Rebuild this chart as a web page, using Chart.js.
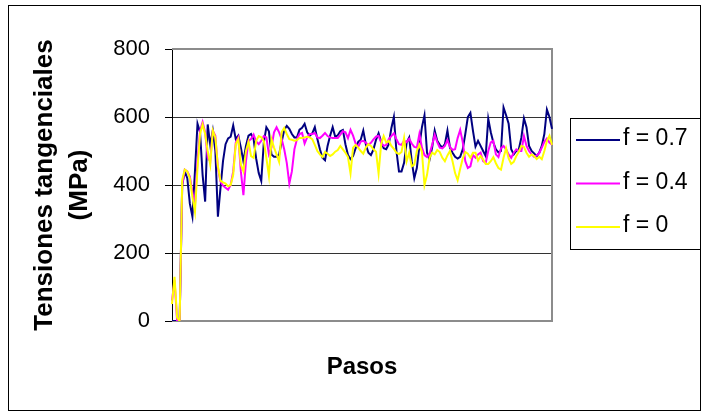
<!DOCTYPE html>
<html>
<head>
<meta charset="utf-8">
<script src="https://cdn.jsdelivr.net/npm/chart.js@4.4.1/dist/chart.umd.min.js"></script>
<style>
  html, body { margin: 0; padding: 0; background: #fff; }
</style>
</head>
<body>
<canvas id="chart" width="702" height="416"></canvas>
<script>
// pasos (categorias del eje x, sin etiquetas visibles)
const pasos = Array.from({length: 150}, (_, i) => String(i + 1));

// tensiones tangenciales (MPa)
const f07 = [
    0, 0, 0, 0, 400, 440, 420, 345, 307, 440,
    580, 555, 430, 351, 578, 518, 560, 500, 307, 390,
    470, 520, 537, 542, 575, 535, 545, 510, 470, 515,
    545, 550, 535, 478, 435, 412, 525, 570, 558, 490,
    483, 483, 490, 527, 562, 574, 565, 550, 540, 540,
    563, 568, 580, 555, 545, 552, 570, 535, 505, 480,
    473, 515, 545, 570, 542, 546, 558, 562, 520, 488,
    476, 485, 508, 527, 533, 560, 520, 495, 488, 505,
    533, 552, 528, 508, 505, 520, 567, 600, 500, 440,
    440, 465, 525, 540, 470, 420, 450, 515, 570, 605,
    495, 475, 510, 560, 530, 518, 510, 520, 560, 510,
    495, 483, 478, 483, 505, 550, 600, 612, 560, 513,
    530, 515, 500, 485, 595, 555, 525, 505, 496, 500,
    628, 605, 580, 505, 490, 500, 505, 540, 596, 570,
    515, 500, 493, 485, 495, 515, 550, 622, 600, 565
];
const f04 = [
    60, 120, 0, 0, 400, 445, 440, 425, 380, 340,
    470, 560, 585, 555, 480, 470, 560, 545, 450, 410,
    398, 392, 386, 400, 440, 525, 540, 440, 370, 470,
    530, 535, 548, 528, 520, 530, 544, 540, 490, 510,
    555, 570, 555, 535, 505, 465, 404, 440, 505, 535,
    550, 553, 522, 540, 550, 550, 553, 540, 538, 545,
    553, 544, 540, 538, 538, 538, 548, 558, 555, 538,
    562, 545, 522, 512, 528, 530, 524, 518, 524, 534,
    542, 545, 525, 515, 518, 535, 544, 552, 535, 520,
    518, 530, 526, 536, 522, 512, 510, 550, 510, 488,
    482, 492, 518, 548, 526, 510, 508, 515, 532, 512,
    503, 505, 538, 562, 526, 470, 450, 455, 488, 480,
    490, 495, 470, 465, 500, 525, 530, 490, 482, 508,
    515, 505, 490, 480, 495, 505, 500, 500, 544, 515,
    500, 490, 483, 487, 494, 510, 527, 537, 525, 518
];
const f0 = [
    50, 130, 10, 0, 415, 445, 440, 420, 365, 321,
    450, 550, 578, 550, 500, 460, 560, 540, 455, 413,
    408, 404, 396, 400, 430, 520, 535, 460, 440, 500,
    527, 485, 480, 530, 544, 540, 530, 480, 427, 535,
    510, 490, 468, 556, 568, 550, 535, 533, 530, 532,
    538, 538, 540, 542, 540, 535, 518, 500, 490, 482,
    497, 492, 485, 490, 498, 503, 515, 505, 495, 482,
    434, 510, 518, 510, 500, 492, 510, 520, 515, 505,
    498, 434, 520, 544, 525, 530, 515, 506, 495, 491,
    497, 538, 470, 495, 455, 460, 500, 518, 497, 400,
    430, 480, 495, 490, 503, 497, 480, 470, 487, 500,
    470, 435, 414, 448, 478, 497, 492, 480, 495, 495,
    472, 485, 475, 462, 462, 470, 482, 464, 450, 445,
    480, 508, 478, 462, 468, 485, 498, 515, 512, 495,
    483, 490, 485, 476, 483, 476, 500, 530, 545, 518
];

const nombres = ['f = 0.7', 'f = 0.4', 'f = 0'];
const colores = ['#000080', '#FF00FF', '#FFFF00'];
const yTicks = [0, 200, 400, 600, 800];

const fuente = '"Liberation Sans", Arial, sans-serif';

// marco del grafico, borde del area de trazado y leyenda con recuadro
const marco = {
    id: 'marco',
    beforeDraw(chart) {
        const ctx = chart.ctx;
        ctx.save();
        ctx.fillStyle = '#fff';
        ctx.fillRect(0, 0, chart.width, chart.height);
        ctx.restore();
    },
    beforeDatasetsDraw(chart) {
        const {ctx, chartArea: a} = chart;
        ctx.save();
        ctx.strokeStyle = '#8c8c8c';
        ctx.lineWidth = 2;
        ctx.beginPath();
        ctx.moveTo(a.left, a.top);
        ctx.lineTo(a.right, a.top);
        ctx.lineTo(a.right, a.bottom);
        ctx.lineTo(a.left, a.bottom);
        ctx.stroke();
        ctx.restore();
    },
    afterDraw(chart) {
        const ctx = chart.ctx;
        ctx.save();
        ctx.strokeStyle = '#000';
        ctx.lineWidth = 1;
        ctx.strokeRect(8.5, 5.5, 692, 405);

        // leyenda
        ctx.strokeRect(570.5, 118.5, 130, 131);
        ctx.font = '23px ' + fuente;
        ctx.textBaseline = 'middle';
        ctx.fillStyle = '#000';
        nombres.forEach((n, i) => {
            const y = 140 + i * 43.5;
            ctx.strokeStyle = colores[i];
            ctx.lineWidth = 2;
            ctx.beginPath();
            ctx.moveTo(576, y);
            ctx.lineTo(620, y);
            ctx.stroke();
            ctx.fillText(n, 623, y - 1);
        });
        ctx.restore();
    }
};

const series = [f07, f04, f0];

const config = {
    type: 'line',
    data: {
        labels: pasos,
        datasets: series.map((d, i) => ({
            label: nombres[i],
            data: d,
            borderColor: colores[i],
            backgroundColor: colores[i],
            borderWidth: 2,
            pointRadius: 0,
            tension: 0,
            fill: false,
            order: 3 - i
        }))
    },
    options: {
        responsive: false,
        animation: false,
        layout: {
            padding: {left: 10, right: 150, top: 49, bottom: 34}
        },
        plugins: {
            legend: {display: false},
            tooltip: {enabled: false}
        },
        scales: {
            x: {
                offset: false,
                grid: {display: false},
                border: {display: false},
                ticks: {display: false},
                title: {
                    display: true,
                    text: 'Pasos',
                    color: '#000',
                    font: {family: fuente, size: 24, weight: 'bold'},
                    padding: {top: 0, bottom: 0}
                },
                afterFit(s) { s.height = 61; }
            },
            y: {
                min: 0,
                max: 800,
                afterBuildTicks(s) { s.ticks = yTicks.map(v => ({value: v})); },
                ticks: {
                    color: '#000',
                    padding: 15,
                    font: {family: fuente, size: 22}
                },
                grid: {
                    color: (c) => (c.tick && (c.tick.value === 0 || c.tick.value === 800)) ? 'rgba(0,0,0,0)' : '#333',
                    tickColor: '#000',
                    tickLength: 7,
                    lineWidth: 1
                },
                border: {display: true, color: '#000', width: 1},
                title: {
                    display: true,
                    text: ['Tensiones tangenciales', '(MPa)'],
                    color: '#000',
                    font: {family: fuente, size: 26, weight: 'bold', lineHeight: 1.35},
                    padding: {top: 17, bottom: 0}
                },
                afterFit(s) { s.width = 162; }
            }
        }
    },
    plugins: [marco]
};

var myChart = new Chart(
    document.getElementById('chart').getContext('2d'),
    config
);
</script>
</body>
</html>
